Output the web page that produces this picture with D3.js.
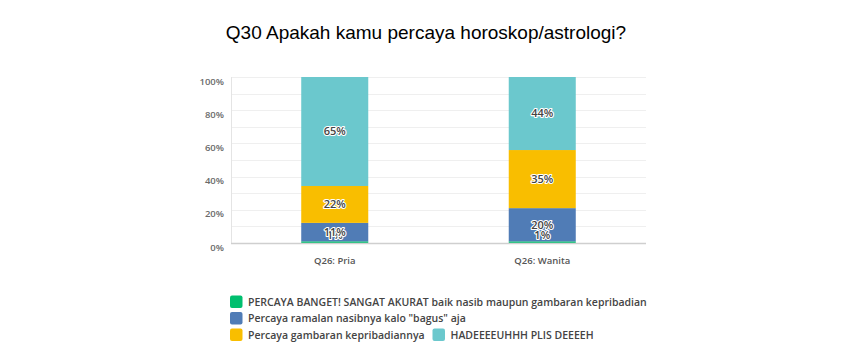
<!DOCTYPE html>
<html>
<head>
<meta charset="utf-8">
<script src="https://cdn.jsdelivr.net/npm/d3@7"></script>
<style>
  body { margin: 0; background: #fff; }
  svg { display: block; }
</style>
</head>
<body>
<script>
var categories = ["Q26: Pria", "Q26: Wanita"],
    series = ["PERCAYA BANGET! SANGAT AKURAT baik nasib maupun gambaran kepribadiannya",
              "Percaya ramalan nasibnya kalo \"bagus\" aja",
              "Percaya gambaran kepribadiannya",
              "HADEEEEUHHH PLIS DEEEEH"],
    percayaBanget = [1, 1],
    ramalan = [11, 20],
    kepribadian = [22, 35],
    hadeuh = [65, 44],
    yTicks = [0, 20, 40, 60, 80, 100];

var colors = ["#00bf6f", "#507cb6", "#f9be00", "#6bc8cd"];
var values = [percayaBanget, ramalan, kepribadian, hadeuh];

var W = 853, H = 354,
    m = {top: 77, right: 207, bottom: 111, left: 231},
    w = W - m.left - m.right,
    h = H - m.top - m.bottom;

var rows = categories.map(function(c, i) {
  var r = {category: c};
  series.forEach(function(s, j) { r[s] = values[j][i]; });
  return r;
});

var stacked = d3.stack().keys(series).offset(d3.stackOffsetExpand)(rows);

var x = d3.scaleBand().domain(categories).range([0, w]).paddingInner(0.677).paddingOuter(0.3385),
    y = d3.scaleLinear().domain([0, 1]).range([h, 0]);

var svg = d3.select("body").append("svg")
    .attr("width", W)
    .attr("height", H);

svg.append("text")
    .attr("x", 426)
    .attr("y", 39)
    .attr("text-anchor", "middle")
    .style("font-family", "Liberation Sans, Arial, sans-serif")
    .style("font-size", "19px")
    .style("fill", "#000")
    .text("Q30 Apakah kamu percaya horoskop/astrologi?");

var g = svg.append("g")
    .attr("transform", "translate(" + m.left + "," + m.top + ")");

// gridlines every 10%
g.append("g")
    .selectAll("line")
    .data(d3.range(0.1, 1.01, 0.1))
  .enter().append("line")
    .attr("x1", 0).attr("x2", w)
    .attr("y1", function(d) { return Math.round(y(d)) + 0.5; })
    .attr("y2", function(d) { return Math.round(y(d)) + 0.5; })
    .style("stroke", "#efefef");

g.append("line")
    .attr("x1", 0.5).attr("x2", 0.5)
    .attr("y1", 0).attr("y2", h)
    .style("stroke", "#e4e4e4");

// y axis labels
var yAxis = d3.axisLeft(y)
    .tickValues(yTicks.map(function(d) { return d / 100; }))
    .tickFormat(d3.format(".0%"))
    .tickSize(0)
    .tickPadding(7);

g.append("g")
    .call(yAxis)
    .call(function(a) { a.select(".domain").remove(); })
  .selectAll("text")
    .attr("dy", "0.75em")
    .style("font-family", "Open Sans, sans-serif")
    .style("font-weight", "600")
    .style("font-size", "9.5px")
    .style("fill", "#6a6a6a");

// bars
var layer = g.selectAll(".layer")
    .data(stacked)
  .enter().append("g")
    .attr("class", "layer")
    .style("fill", function(d, i) { return colors[i]; });

layer.selectAll("rect")
    .data(function(d) { return d; })
  .enter().append("rect")
    .attr("x", function(d) { return x(d.data.category); })
    .attr("width", x.bandwidth())
    .attr("y", function(d) { return y(d[1]); })
    .attr("height", function(d) { return y(d[0]) - y(d[1]); });

// bottom axis line
g.append("line")
    .attr("x1", 0).attr("x2", w)
    .attr("y1", h + 0.5).attr("y2", h + 0.5)
    .style("stroke", "#cfcfcf")
    .style("stroke-width", 1.5);

// category labels
var xAxis = d3.axisBottom(x).tickSize(0).tickPadding(14);
g.append("g")
    .attr("transform", "translate(0," + h + ")")
    .call(xAxis)
    .call(function(a) { a.select(".domain").remove(); })
  .selectAll("text")
    .style("font-family", "Open Sans, sans-serif")
    .style("font-weight", "600")
    .style("font-size", "9.5px")
    .style("fill", "#555");

// value labels
var labels = [];
stacked.forEach(function(s, i) {
  s.forEach(function(d, k) {
    labels.push({v: values[i][k], cat: d.data.category,
                 yc: Math.min((y(d[0]) + y(d[1])) / 2, h - 8)});
  });
});

g.append("g").selectAll("text")
    .data(labels)
  .enter().append("text")
    .attr("x", function(d) { return x(d.cat) + x.bandwidth() / 2; })
    .attr("y", function(d) { return d.yc; })
    .attr("dy", "0.35em")
    .attr("text-anchor", "middle")
    .style("font-family", "Open Sans, sans-serif")
    .style("font-size", "11px")
    .style("font-weight", "600")
    .style("paint-order", "stroke")
    .style("stroke", "#fff")
    .style("stroke-width", 2.2)
    .style("stroke-linejoin", "round")
    .style("fill", "#444")
    .text(function(d) { return d.v + "%"; });

// legend
svg.append("clipPath").attr("id", "legclip")
  .append("rect").attr("x", 0).attr("y", 280).attr("width", 647).attr("height", 70);

var legPos = [[230, 302], [230, 318.5], [230, 335], [432.5, 335]];
var leg = svg.append("g").attr("clip-path", "url(#legclip)")
    .selectAll("g")
    .data(series)
  .enter().append("g")
    .attr("transform", function(d, i) { return "translate(" + legPos[i][0] + "," + legPos[i][1] + ")"; });

leg.append("rect")
    .attr("x", 0).attr("y", -6.5)
    .attr("width", 12.5).attr("height", 12.5)
    .attr("rx", 2)
    .style("fill", function(d, i) { return colors[i]; });

leg.append("text")
    .attr("x", 18)
    .attr("dy", "0.35em")
    .style("font-family", "Open Sans, sans-serif")
    .style("font-size", "10.5px")
    .style("font-weight", "600")
    .style("fill", "#444")
    .text(String);
</script>
</body>
</html>
